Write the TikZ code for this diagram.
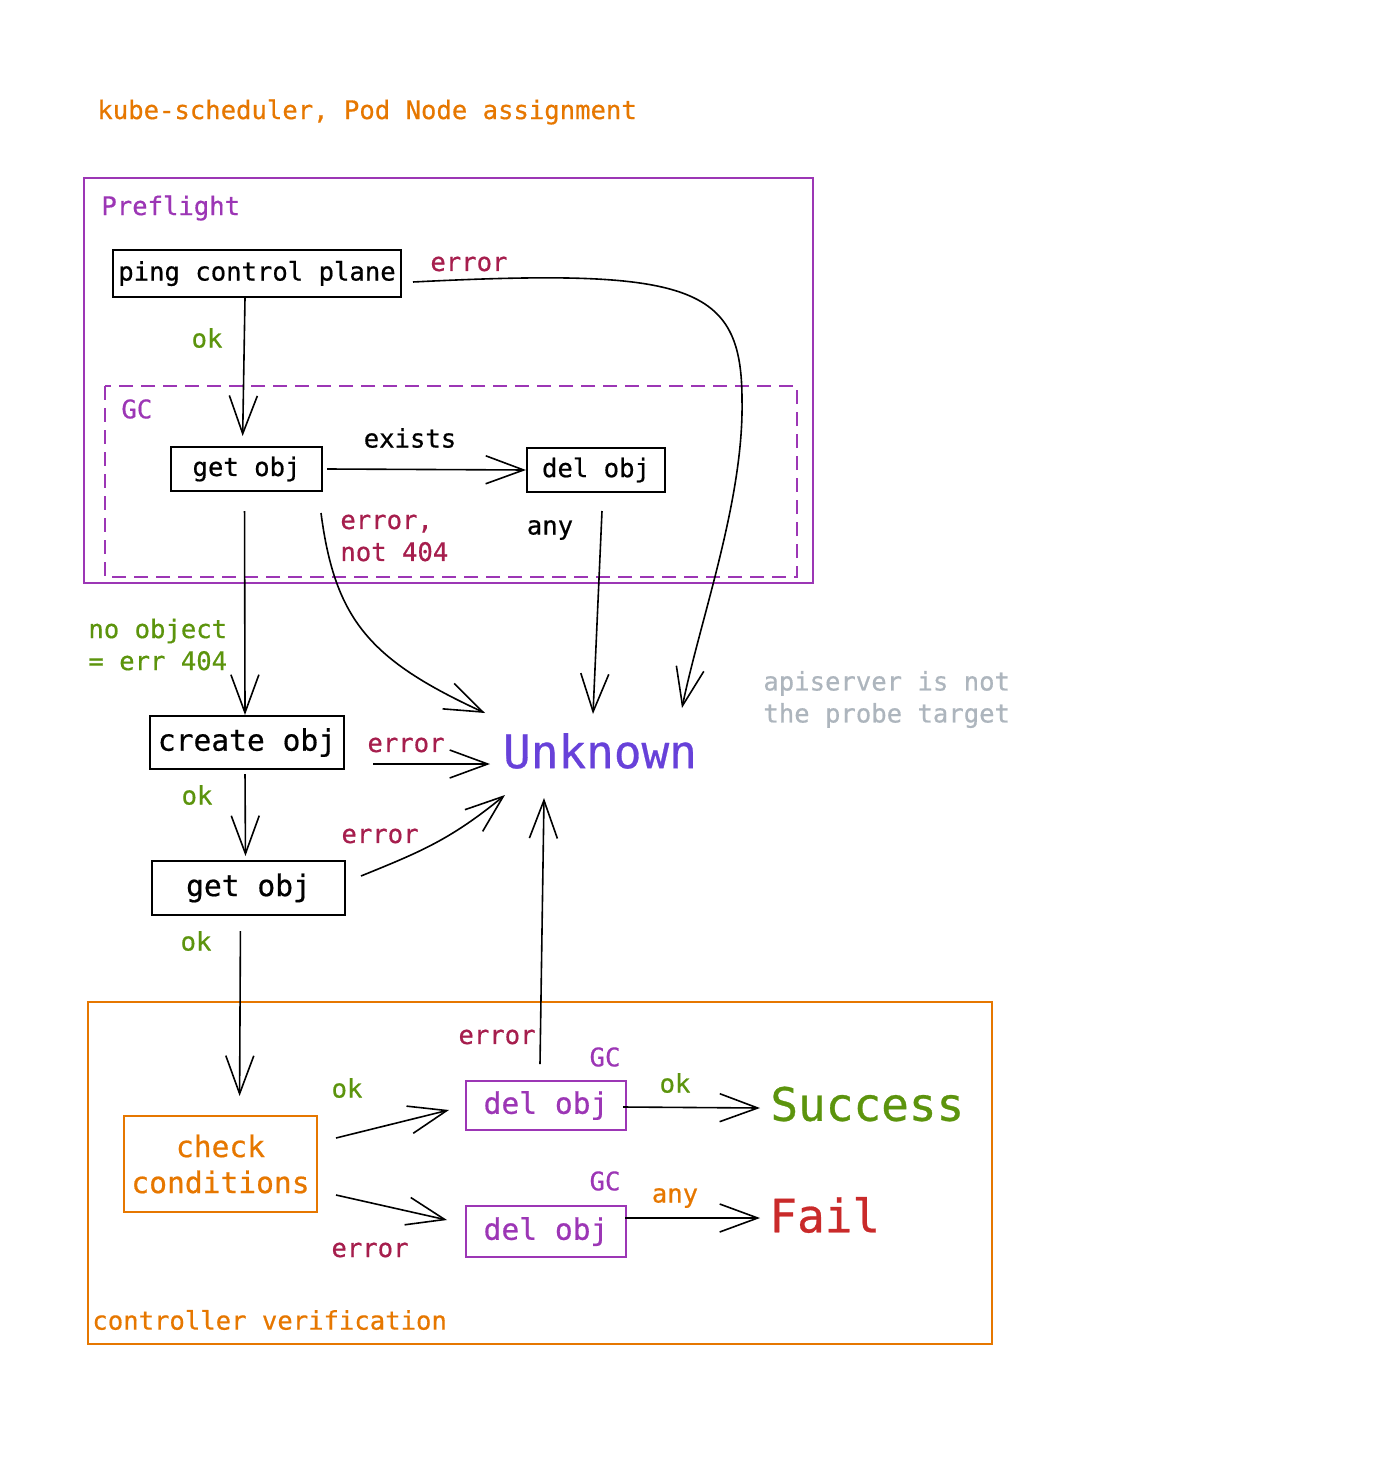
\documentclass[tikz,border=0pt]{standalone}
\usepackage{fontspec}
\setmonofont[FakeBold=0.6]{DejaVu Sans Mono}
\usetikzlibrary{arrows.meta}
\definecolor{orans}{HTML}{E67700}
\definecolor{lilla}{HTML}{9C36B5}
\definecolor{feil}{HTML}{A61E4D}
\definecolor{gronn}{HTML}{5C940D}
\definecolor{fiolett}{HTML}{6741D9}
\definecolor{rod}{HTML}{C92A2A}
\definecolor{graa}{HTML}{ADB5BD}
\newcommand\liten{\ttfamily\fontsize{12.8}{16}\selectfont}
\newcommand\middels{\ttfamily\fontsize{14.8}{18}\selectfont}
\newcommand\stor{\ttfamily\fontsize{23}{28}\selectfont}

\begin{document}
\begin{tikzpicture}[
    x=0.5pt, y=-0.5pt,
    every node/.style={inner sep=0pt, font=\liten},
    punkt/.style={rectangle, draw=black, line width=1pt},
    kant/.style={inner sep=0pt, font=\liten},
    ramme/.style={line width=1pt},
    pil/.style={line width=0.8pt, -{Straight Barb[length=19pt,width=14pt]}}
    ]
\useasboundingbox (0,0) rectangle (1400,1460);

\node[kant, orans, anchor=west] (tittel) at (97,112) {kube-scheduler, Pod Node assignment};

%Preflight frame and GC frame
\draw[ramme, lilla] (84,178) rectangle (813,583);
\node[kant, lilla, anchor=west] (preflight) at (101,208) {Preflight};
\draw[ramme, lilla, dash pattern=on 7pt off 4pt] (105,386) rectangle (797,577);
\node[kant, lilla, anchor=west] (gc) at (121,409) {GC};

%boxes, upper part
\node[punkt, minimum width=144pt, minimum height=23.5pt] (ping) at (257,273.5) {ping control plane};
\node[punkt, minimum width=75.5pt, minimum height=22pt] (get1) at (246.5,469) {get obj};
\node[punkt, minimum width=69pt, minimum height=22pt] (del1) at (596,470) {del obj};
\node[punkt, font=\middels, minimum width=97pt, minimum height=26.5pt] (create) at (247,742.5) {create obj};
\node[punkt, font=\middels, minimum width=96.5pt, minimum height=27pt] (get2) at (248.5,888) {get obj};

%results
\node[font=\stor, fiolett] (unk) at (600,751) {Unknown};
\node[font=\stor, gronn, anchor=west] (success) at (770,1104) {Success};
\node[font=\stor, rod, anchor=west] (fail) at (769,1215) {Fail};
\node[kant, graa, align=left, anchor=west] (merk) at (763,699.5) {apiserver is not\\the probe target};

%controller verification frame
\draw[ramme, orans] (88,1002) rectangle (992,1344);
\node[kant, orans, anchor=west] (verif) at (92,1320) {controller verification};
\node[punkt, draw=orans, orans, font=\middels, align=center, minimum width=96.5pt, minimum height=48pt] (check) at (220.5,1164) {check\\conditions};
\node[punkt, draw=lilla, lilla, font=\middels, minimum width=80pt, minimum height=24.5pt] (del2) at (546,1105.5) {del obj};
\node[punkt, draw=lilla, lilla, font=\middels, minimum width=80pt, minimum height=25.5pt] (del3) at (546,1231.5) {del obj};
\node[kant, lilla] (gc2) at (605,1057) {GC};
\node[kant, lilla] (gc3) at (605,1181) {GC};

%edge labels
\node[kant, feil, anchor=west] (l1) at (430,264) {error};
\node[kant, gronn] (l2) at (207,338) {ok};
\node[kant] (l3) at (410,438) {exists};
\node[kant, feil, align=left, anchor=west] (l4) at (340,538) {error,\\not 404};
\node[kant] (l5) at (550,530) {any};
\node[kant, gronn, align=left, anchor=west] (l6) at (88,644.5) {no object\\= err 404};
\node[kant, feil] (l7) at (406,745) {error};
\node[kant, gronn] (l8) at (197,795) {ok};
\node[kant, feil] (l9) at (380,836) {error};
\node[kant, gronn] (l10) at (196,941) {ok};
\node[kant, gronn] (l11) at (347,1088) {ok};
\node[kant, feil] (l12) at (370,1250) {error};
\node[kant, feil] (l13) at (497,1037) {error};
\node[kant, gronn] (l14) at (675,1083) {ok};
\node[kant, orans] (l15) at (675,1198) {any};

%connectors, upper part
\draw[pil, shorten >=5pt] ([xshift=-6pt]ping.south) -- ([xshift=-2pt]get1.north);
\draw[pil] ([xshift=2pt]get1.east) -- (del1.west);
\draw[pil] ([shift={(11,8.5)}]ping.east) .. controls (690,268) and (742,285) .. (742,400)
    .. controls (744,500) and (700,620) .. ([shift={(82,-43)}]unk.center);
\draw[pil, shorten <=9.5pt] ([xshift=-1pt]get1.south) -- ([xshift=-1pt]create.north);
\draw[pil] ([shift={(-2,21)}]get1.south east) .. controls (335,620) and (370,660) .. ([shift={(-115,-38)}]unk.center);
\draw[pil] ([shift={(6,18)}]del1.south) -- ([shift={(-7,-37)}]unk.center);
\draw[pil] ([shift={(28,21.5)}]create.east) -- ([shift={(-110,13)}]unk.center);
\draw[pil, shorten <=2pt, shorten >=2pt] ([xshift=-1pt]create.south) -- ([xshift=-1.5pt]get2.north);
\draw[pil] ([shift={(15,-12)}]get2.east) .. controls (420,852) and (450,840) .. ([shift={(-95,44)}]unk.center);

%connectors, controller verification
\draw[pil, shorten <=7.5pt, shorten >=9.5pt] ([xshift=-4pt]get2.south) -- ([xshift=9.5pt]check.north);
\draw[pil] ([shift={(18,-26)}]check.east) -- ([shift={(-16,4.5)}]del2.west);
\draw[pil] ([shift={(18,31)}]check.east) -- ([shift={(-18,-11.5)}]del3.west);
\draw[pil] ([shift={(-6,-16)}]del2.north) -- ([shift={(-56,47)}]unk.center);
\draw[pil] ([shift={(-4,1.5)}]del2.east) -- ([shift={(-10,4)}]success.west);
\draw[pil] ([shift={(-2,-13.5)}]del3.east) -- ([shift={(-9,3)}]fail.west);
\end{tikzpicture}
\end{document}
